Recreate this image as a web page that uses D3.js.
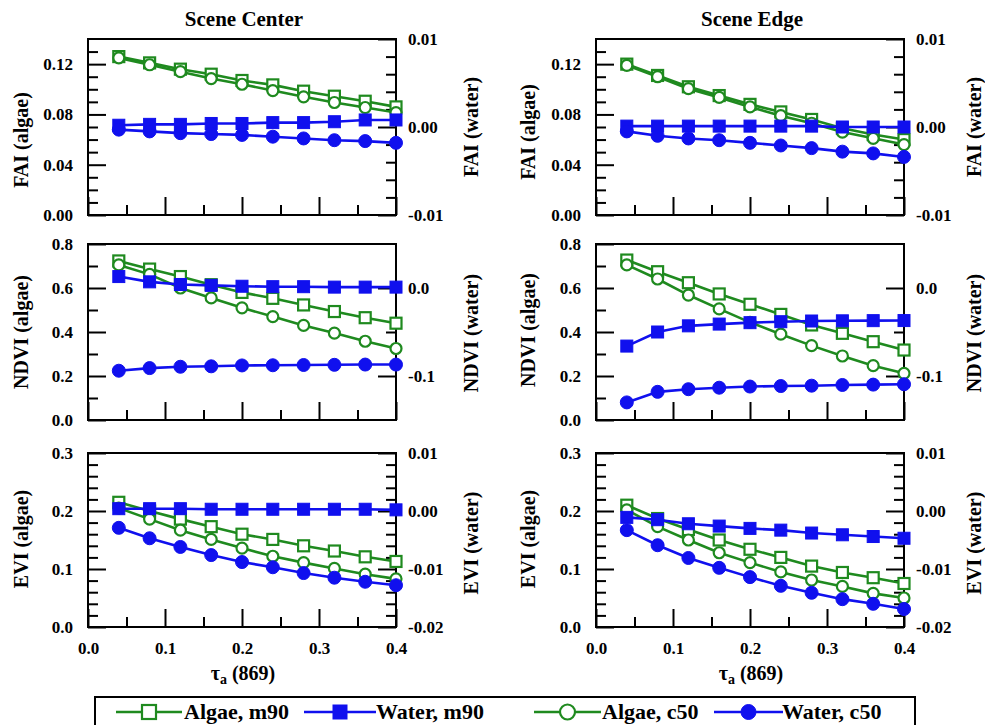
<!DOCTYPE html>
<html>
<head>
<meta charset="utf-8">
<script src="https://cdn.jsdelivr.net/npm/d3@7"></script>
<style>
  html, body { margin: 0; padding: 0; background: #fff; }
  svg { display: block; }
  text { font-family: "Liberation Serif", "Times New Roman", serif; font-weight: bold; fill: #000; }
</style>
</head>
<body>
<svg id="chart" width="985" height="725"></svg>
<script>
// ---------------- DATA ----------------
const tau = [0.04, 0.08, 0.12, 0.16, 0.20, 0.24, 0.28, 0.32, 0.36, 0.40];

const columnTitles = ["Scene Center", "Scene Edge"];
const seriesNames = ["Algae, m90", "Water, m90", "Algae, c50", "Water, c50"];

// FAI
const faiCenterAlgaeM90 = [0.126, 0.121, 0.116, 0.112, 0.107, 0.1035, 0.0985, 0.0945, 0.0905, 0.086];
const faiCenterAlgaeC50 = [0.125, 0.1195, 0.114, 0.1085, 0.104, 0.099, 0.094, 0.0895, 0.0855, 0.0815];
const faiCenterWaterM90 = [0.0002, 0.0003, 0.0003, 0.0004, 0.0004, 0.0005, 0.0005, 0.0006, 0.0008, 0.0008];
const faiCenterWaterC50 = [-0.0003, -0.0005, -0.0007, -0.0008, -0.0009, -0.0011, -0.0013, -0.0015, -0.0016, -0.0018];
const faiEdgeAlgaeM90 = [0.120, 0.111, 0.102, 0.095, 0.088, 0.082, 0.076, 0.069, 0.064, 0.060];
const faiEdgeAlgaeC50 = [0.119, 0.110, 0.1005, 0.0935, 0.086, 0.079, 0.073, 0.066, 0.061, 0.056];
const faiEdgeWaterM90 = [0.0001, 0.0001, 0.0001, 0.0001, 0.0001, 0.0001, 0.0001, 0.0000, 0.0000, 0.0000];
const faiEdgeWaterC50 = [-0.0005, -0.0010, -0.0013, -0.0015, -0.0018, -0.0021, -0.0024, -0.0028, -0.0030, -0.0034];

// NDVI
const ndviCenterAlgaeM90 = [0.723, 0.686, 0.652, 0.615, 0.580, 0.553, 0.523, 0.493, 0.465, 0.440];
const ndviCenterAlgaeC50 = [0.705, 0.662, 0.600, 0.555, 0.510, 0.470, 0.430, 0.395, 0.358, 0.325];
const ndviCenterWaterM90 = [0.013, 0.007, 0.004, 0.003, 0.002, 0.0015, 0.0015, 0.001, 0.001, 0.001];
const ndviCenterWaterC50 = [-0.094, -0.091, -0.0895, -0.089, -0.088, -0.0878, -0.0875, -0.0873, -0.087, -0.087];
const ndviEdgeAlgaeM90 = [0.727, 0.674, 0.624, 0.573, 0.526, 0.480, 0.432, 0.394, 0.356, 0.318];
const ndviEdgeAlgaeC50 = [0.705, 0.641, 0.568, 0.505, 0.444, 0.390, 0.338, 0.291, 0.247, 0.212];
const ndviEdgeWaterM90 = [-0.066, -0.050, -0.043, -0.041, -0.0394, -0.0383, -0.0375, -0.0373, -0.0371, -0.037];
const ndviEdgeWaterC50 = [-0.130, -0.118, -0.115, -0.1133, -0.112, -0.1114, -0.111, -0.1102, -0.1098, -0.1094];

// EVI
const eviCenterAlgaeM90 = [0.215, 0.200, 0.186, 0.173, 0.160, 0.151, 0.140, 0.131, 0.121, 0.113];
const eviCenterAlgaeC50 = [0.205, 0.186, 0.167, 0.151, 0.136, 0.122, 0.111, 0.101, 0.091, 0.083];
const eviCenterWaterM90 = [0.0004, 0.0004, 0.0004, 0.0003, 0.0003, 0.0003, 0.0003, 0.0003, 0.0003, 0.0002];
const eviCenterWaterC50 = [-0.0029, -0.0047, -0.0062, -0.0076, -0.0088, -0.0097, -0.0107, -0.0115, -0.0122, -0.0128];
const eviEdgeAlgaeM90 = [0.210, 0.187, 0.168, 0.150, 0.134, 0.120, 0.105, 0.094, 0.085, 0.075];
const eviEdgeAlgaeC50 = [0.202, 0.173, 0.150, 0.128, 0.111, 0.095, 0.081, 0.070, 0.058, 0.050];
const eviEdgeWaterM90 = [-0.0011, -0.0015, -0.0022, -0.0026, -0.0030, -0.0033, -0.0038, -0.0041, -0.0044, -0.0047];
const eviEdgeWaterC50 = [-0.0033, -0.0059, -0.0081, -0.0098, -0.0114, -0.0129, -0.0141, -0.0152, -0.0160, -0.0169];

// Axis ticks / labels
const xMinorTicks = [0.05, 0.15, 0.25, 0.35];
const xMajorTicks = [0.0, 0.1, 0.2, 0.3, 0.4];
const xTickLabels = ["0.0", "0.1", "0.2", "0.3", "0.4"];

const faiLeftMajor = [0, 0.04, 0.08, 0.12];
const faiLeftLabels = ["0.00", "0.04", "0.08", "0.12"];
const faiLeftMinor = [0.01, 0.02, 0.03, 0.05, 0.06, 0.07, 0.09, 0.10, 0.11, 0.13];
const faiRightMajor = [-0.01, 0, 0.01];
const faiRightLabels = ["-0.01", "0.00", "0.01"];
const faiRightMinor = [-0.008, -0.006, -0.004, -0.002, 0.002, 0.004, 0.006, 0.008];

const ndviLeftMajor = [0, 0.2, 0.4, 0.6, 0.8];
const ndviLeftLabels = ["0.0", "0.2", "0.4", "0.6", "0.8"];
const ndviLeftMinor = [0.1, 0.3, 0.5, 0.7];
const ndviRightMajor = [-0.1, 0.0];
const ndviRightLabels = ["-0.1", "0.0"];
const ndviRightMinor = [-0.05];

const eviLeftMajor = [0, 0.1, 0.2, 0.3];
const eviLeftLabels = ["0.0", "0.1", "0.2", "0.3"];
const eviLeftMinor = [0.02, 0.04, 0.06, 0.08, 0.12, 0.14, 0.16, 0.18, 0.22, 0.24, 0.26, 0.28];
const eviRightMajor = [-0.02, -0.01, 0, 0.01];
const eviRightLabels = ["-0.02", "-0.01", "0.00", "0.01"];
const eviRightMinor = [-0.018, -0.016, -0.014, -0.012, -0.008, -0.006, -0.004, -0.002, 0.002, 0.004, 0.006, 0.008];

// ---------------- LAYOUT ----------------
const GREEN = "#1f8a1f";
const BLUE = "#1010ee";
const colX = [88, 596];
const plotW = 308;
const rowY = [[39, 215], [244, 420], [453, 627]];

const rows = [
  { name: "FAI", leftDomain: [0, 0.14], rightDomain: [-0.01, 0.01],
    lMajor: faiLeftMajor, lLabels: faiLeftLabels, lMinor: faiLeftMinor,
    rMajor: faiRightMajor, rLabels: faiRightLabels, rMinor: faiRightMinor,
    leftTitle: "FAI (algae)", rightTitle: "FAI (water)",
    leftTitleY: [140, 132], rightTitleY: [127, 127],
    data: [[faiCenterAlgaeM90, faiCenterAlgaeC50, faiCenterWaterM90, faiCenterWaterC50],
           [faiEdgeAlgaeM90, faiEdgeAlgaeC50, faiEdgeWaterM90, faiEdgeWaterC50]] },
  { name: "NDVI", leftDomain: [0, 0.8], rightDomain: [-0.15, 0.05],
    lMajor: ndviLeftMajor, lLabels: ndviLeftLabels, lMinor: ndviLeftMinor,
    rMajor: ndviRightMajor, rLabels: ndviRightLabels, rMinor: ndviRightMinor,
    leftTitle: "NDVI (algae)", rightTitle: "NDVI (water)",
    leftTitleY: [332, 330], rightTitleY: [333, 333],
    data: [[ndviCenterAlgaeM90, ndviCenterAlgaeC50, ndviCenterWaterM90, ndviCenterWaterC50],
           [ndviEdgeAlgaeM90, ndviEdgeAlgaeC50, ndviEdgeWaterM90, ndviEdgeWaterC50]] },
  { name: "EVI", leftDomain: [0, 0.3], rightDomain: [-0.02, 0.01],
    lMajor: eviLeftMajor, lLabels: eviLeftLabels, lMinor: eviLeftMinor,
    rMajor: eviRightMajor, rLabels: eviRightLabels, rMinor: eviRightMinor,
    leftTitle: "EVI (algae)", rightTitle: "EVI (water)",
    leftTitleY: [539, 539], rightTitleY: [543, 543],
    data: [[eviCenterAlgaeM90, eviCenterAlgaeC50, eviCenterWaterM90, eviCenterWaterC50],
           [eviEdgeAlgaeM90, eviEdgeAlgaeC50, eviEdgeWaterM90, eviEdgeWaterC50]] }
];

const svg = d3.select("#chart");
const FONT = '"Liberation Serif", "Times New Roman", serif';

function styleAxis(g, fs) {
  g.select(".domain").remove();
  g.selectAll(".tick line").attr("stroke", "#000").attr("stroke-width", 2);
  g.selectAll(".tick text").attr("font-family", FONT).attr("font-weight", "bold")
    .attr("font-size", fs).attr("fill", "#000");
  g.attr("font-family", null).attr("font-size", null);
}

function drawPanel(row, ri, ci) {
  const x0 = colX[ci], x1 = x0 + plotW;
  const [yTop, yBot] = rowY[ri];
  const x = d3.scaleLinear().domain([0, 0.4]).range([x0, x1]);
  const yL = d3.scaleLinear().domain(row.leftDomain).range([yBot, yTop]);
  const yR = d3.scaleLinear().domain(row.rightDomain).range([yBot, yTop]);
  const g = svg.append("g");

  const bMinor = g.append("g").attr("transform", `translate(0,${yBot})`)
    .call(d3.axisBottom(x).tickValues(xMinorTicks).tickSize(-10).tickFormat(""));
  styleAxis(bMinor, 17);
  const isBottom = ri === rowY.length - 1;
  const bMajor = g.append("g").attr("transform", `translate(0,${yBot})`)
    .call(d3.axisBottom(x).tickValues(xMajorTicks).tickSize(-18).tickPadding(15)
      .tickFormat((d, i) => isBottom ? xTickLabels[i] : ""));
  styleAxis(bMajor, 17);

  const lMinor = g.append("g").attr("transform", `translate(${x0},0)`)
    .call(d3.axisLeft(yL).tickValues(row.lMinor).tickSize(-10).tickFormat(""));
  styleAxis(lMinor, 17);
  const lMajor = g.append("g").attr("transform", `translate(${x0},0)`)
    .call(d3.axisLeft(yL).tickValues(row.lMajor).tickSize(-18).tickPadding(15)
      .tickFormat((d, i) => row.lLabels[i]));
  styleAxis(lMajor, 17);

  const rMinor = g.append("g").attr("transform", `translate(${x1},0)`)
    .call(d3.axisRight(yR).tickValues(row.rMinor).tickSize(-10).tickFormat(""));
  styleAxis(rMinor, 17);
  const rMajor = g.append("g").attr("transform", `translate(${x1},0)`)
    .call(d3.axisRight(yR).tickValues(row.rMajor).tickSize(-18).tickPadding(12)
      .tickFormat((d, i) => row.rLabels[i]));
  styleAxis(rMajor, 17);

  g.append("rect").attr("x", x0).attr("y", yTop).attr("width", plotW).attr("height", yBot - yTop)
    .attr("fill", "none").attr("stroke", "#000").attr("stroke-width", 2);

  const [aM90, aC50, wM90, wC50] = row.data[ci];
  const specs = [
    { vals: aM90, y: yL, color: GREEN, shape: "square", filled: false },
    { vals: aC50, y: yL, color: GREEN, shape: "circle", filled: false },
    { vals: wM90, y: yR, color: BLUE, shape: "square", filled: true },
    { vals: wC50, y: yR, color: BLUE, shape: "circle", filled: true }
  ];
  specs.forEach(s => {
    const pts = tau.map((t, i) => [x(t), s.y(s.vals[i])]);
    g.append("path").attr("d", d3.line()(pts)).attr("fill", "none")
      .attr("stroke", s.color).attr("stroke-width", 2.6);
    drawMarkers(g, pts, s, false);
  });

  const lx = ci === 0 ? 21 : 528;
  const rx = ci === 0 ? 471 : 974;
  g.append("text").attr("transform", `translate(${lx},${row.leftTitleY[ci]}) rotate(-90)`)
    .attr("text-anchor", "middle").attr("dy", "0.35em").attr("font-size", 20).text(row.leftTitle);
  g.append("text").attr("transform", `translate(${rx},${row.rightTitleY[ci]}) rotate(-90)`)
    .attr("text-anchor", "middle").attr("dy", "0.35em").attr("font-size", 20).text(row.rightTitle);

  if (ri === 0) {
    g.append("text").attr("x", (x0 + x1) / 2 + 2).attr("y", 26).attr("text-anchor", "middle")
      .attr("font-size", 21).text(columnTitles[ci]);
  }
  if (isBottom) {
    const t = g.append("text").attr("x", (x0 + x1) / 2 + 1).attr("y", 680)
      .attr("text-anchor", "middle").attr("font-size", 20);
    t.append("tspan").text("τ");
    t.append("tspan").attr("font-size", 14).attr("dy", 4).text("a");
    t.append("tspan").attr("dy", -4).text(" (869)");
  }
}

function drawMarkers(g, pts, s, legend) {
  const sq = legend ? 14 : (s.filled ? 12 : 11);
  const r = legend ? 7.5 : (s.filled ? 6.5 : 5.5);
  pts.forEach(([px, py]) => {
    if (s.shape === "square") {
      g.append("rect").attr("x", px - sq / 2).attr("y", py - sq / 2).attr("width", sq).attr("height", sq)
        .attr("fill", s.filled ? s.color : "#fff").attr("stroke", s.color).attr("stroke-width", s.filled ? 1 : 2.2);
    } else {
      g.append("circle").attr("cx", px).attr("cy", py).attr("r", r)
        .attr("fill", s.filled ? s.color : "#fff").attr("stroke", s.color).attr("stroke-width", s.filled ? 1 : 2.2);
    }
  });
}

rows.forEach((row, ri) => { [0, 1].forEach(ci => drawPanel(row, ri, ci)); });

// ---------------- LEGEND ----------------
const lg = svg.append("g");
lg.append("rect").attr("x", 95).attr("y", 697).attr("width", 820).attr("height", 45)
  .attr("fill", "none").attr("stroke", "#000").attr("stroke-width", 2);
const legendItems = [
  { color: GREEN, shape: "square", filled: false, x1: 116, x2: 182, tx: 184 },
  { color: BLUE, shape: "square", filled: true, x1: 304, x2: 376, tx: 376 },
  { color: GREEN, shape: "circle", filled: false, x1: 534, x2: 601, tx: 602 },
  { color: BLUE, shape: "circle", filled: true, x1: 714, x2: 783, tx: 782 }
];
const legY = 712;
legendItems.forEach((it, i) => {
  lg.append("line").attr("x1", it.x1).attr("x2", it.x2).attr("y1", legY).attr("y2", legY)
    .attr("stroke", it.color).attr("stroke-width", 2.6);
  drawMarkers(lg, [[(it.x1 + it.x2) / 2, legY]], it, true);
  lg.append("text").attr("x", it.tx).attr("y", legY + 7).attr("font-size", 22).text(seriesNames[i]);
});
</script>
</body>
</html>
